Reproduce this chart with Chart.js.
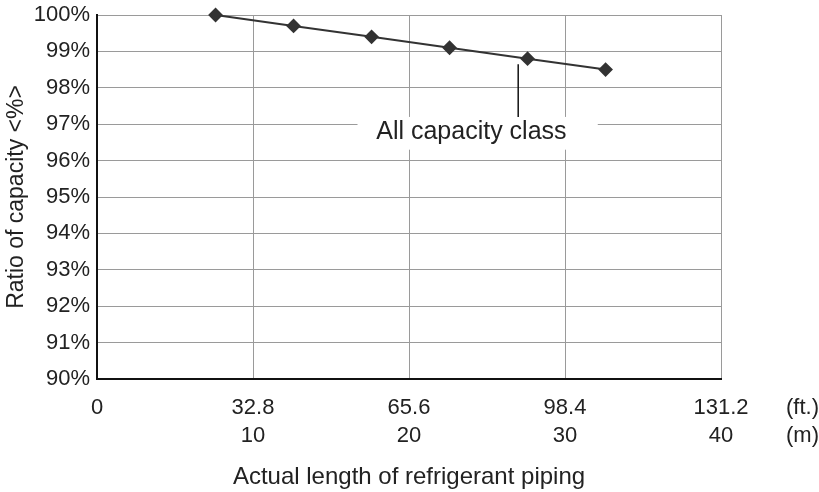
<!DOCTYPE html>
<html>
<head>
<meta charset="utf-8">
<script src="https://cdn.jsdelivr.net/npm/chart.js@4.4.1/dist/chart.umd.min.js"></script>
<style>
  html, body { margin: 0; padding: 0; background: #fff; }
  #box { width: 819px; height: 492px; }
</style>
</head>
<body>
<div id="box"><canvas id="grafico"></canvas></div>
<script>
// piping length (m) and capacity ratio (%)
const lengthM = [7.6, 12.6, 17.6, 22.6, 27.6, 32.6];
const ratio = [100, 99.7, 99.4, 99.1, 98.8, 98.5];

const tickM = [0, 10, 20, 30, 40];
const tickFt = ['0', '32.8', '65.6', '98.4', '131.2'];
const unitLabels = ['(ft.)', '(m)'];

const annotText = 'All capacity class';
const annotLineX = [27, 27];
const annotLineY = [98.65, 97.2];
const annotBoxX = [16.7, 32.1];
const annotBoxY = [97.2, 96.3];
const annotTextPos = [24.0, 96.78];

const FONT = 'Liberation Sans, Arial, sans-serif';
const DARK = '#333333';

const extraText = {
  id: 'extraText',
  beforeDatasetsDraw(chart) {
    const { ctx, scales: { x, y } } = chart;
    ctx.save();
    // white box behind the label
    ctx.fillStyle = '#fff';
    const bx1 = x.getPixelForValue(annotBoxX[0]), bx2 = x.getPixelForValue(annotBoxX[1]);
    const by1 = y.getPixelForValue(annotBoxY[0]), by2 = y.getPixelForValue(annotBoxY[1]);
    ctx.fillRect(bx1, by1, bx2 - bx1, by2 - by1);
    // pointer line
    ctx.strokeStyle = '#111';
    ctx.lineWidth = 1.5;
    ctx.beginPath();
    ctx.moveTo(x.getPixelForValue(annotLineX[0]), y.getPixelForValue(annotLineY[0]));
    ctx.lineTo(x.getPixelForValue(annotLineX[1]), y.getPixelForValue(annotLineY[1]));
    ctx.stroke();
    ctx.fillStyle = '#222';
    ctx.font = '25px ' + FONT;
    ctx.textAlign = 'center';
    ctx.textBaseline = 'middle';
    ctx.fillText(annotText, x.getPixelForValue(annotTextPos[0]), y.getPixelForValue(annotTextPos[1]));
    ctx.restore();
  },
  afterDraw(chart) {
    const { ctx, scales: { x } } = chart;
    ctx.save();
    ctx.fillStyle = '#222';
    ctx.font = '22px ' + FONT;
    ctx.textAlign = 'left';
    ctx.textBaseline = 'middle';
    ctx.fillText(unitLabels[0], x.right + 65, 408);
    ctx.fillText(unitLabels[1], x.right + 65, 436);
    ctx.restore();
  }
};

new Chart(document.getElementById('grafico'), {
  type: 'line',
  data: {
    datasets: [{
      data: lengthM.map((v, i) => ({ x: v, y: ratio[i] })),
      borderColor: DARK,
      borderWidth: 2,
      pointStyle: 'rectRot',
      pointRadius: 6,
      pointBackgroundColor: DARK,
      pointBorderColor: DARK,
      fill: false,
      tension: 0,
      clip: false
    }]
  },
  options: {
    responsive: true,
    maintainAspectRatio: false,
    animation: false,
    layout: { padding: { left: 0, right: 98, top: 15, bottom: 0 } },
    plugins: { legend: { display: false }, tooltip: { enabled: false } },
    scales: {
      x: {
        type: 'linear',
        min: 0,
        max: 40,
        afterFit: s => { s.height = 113; s.paddingLeft = 0; s.paddingRight = 0; },
        afterBuildTicks: s => { s.ticks = tickM.map(v => ({ value: v })); },
        grid: { color: '#9a9a9a', lineWidth: 1, drawTicks: false },
        border: { color: '#111', width: 2 },
        ticks: {
          color: '#222',
          font: { family: FONT, size: 22, lineHeight: 1.28 },
          padding: 15,
          maxRotation: 0,
          callback: v => {
            const i = tickM.indexOf(v);
            return v === 0 ? [tickFt[i], ''] : [tickFt[i], String(v)];
          }
        },
        title: {
          display: true,
          text: 'Actual length of refrigerant piping',
          color: '#222',
          font: { family: FONT, size: 24, lineHeight: 1.2 },
          padding: 0
        }
      },
      y: {
        min: 90,
        max: 100,
        afterFit: s => { s.width = 97; s.paddingTop = 0; s.paddingBottom = 0; },
        grid: { color: '#9a9a9a', lineWidth: 1, drawTicks: false },
        border: { color: '#111', width: 2 },
        ticks: {
          stepSize: 1,
          color: '#222',
          font: { family: FONT, size: 22 },
          padding: 7,
          callback: v => v + '%'
        },
        title: {
          display: true,
          text: 'Ratio of capacity <%>',
          color: '#222',
          font: { family: FONT, size: 23, lineHeight: 1.2 },
          padding: { top: 3, bottom: 0 }
        }
      }
    }
  },
  plugins: [extraText]
});
</script>
</body>
</html>
